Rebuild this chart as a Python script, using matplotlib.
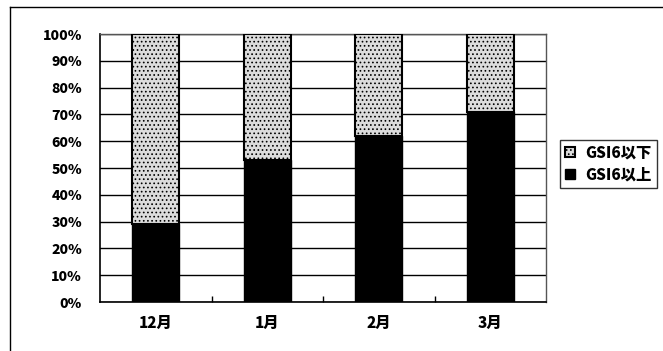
import matplotlib.pyplot as plt
from matplotlib.lines import Line2D
from matplotlib.ticker import FixedLocator, PercentFormatter

plt.rcParams['font.family'] = ['Noto Sans CJK JP', 'DejaVu Sans']
plt.rcParams['hatch.linewidth'] = 0.7

# data
months = ["12月", "1月", "2月", "3月"]
gsi6_above = [29, 53, 62, 71]
gsi6_below = [100 - v for v in gsi6_above]
labels = ["GSI6以下", "GSI6以上"]

fig = plt.figure(figsize=(6.63, 3.51), dpi=100)
ax = fig.add_axes([100/663, 1-302/351, 446/663, 268/351])

x = range(len(months))
b1 = ax.bar(x, gsi6_above, width=0.42, color='black', edgecolor='black', zorder=3)
b2 = ax.bar(x, gsi6_below, bottom=gsi6_above, width=0.42, color='#dcdcdc',
            edgecolor='black', linewidth=1.5, hatch='....', zorder=3)

ax.set_xlim(-0.5, len(months) - 0.5)
ax.set_ylim(0, 100)
ax.set_yticks(range(0, 101, 10))
ax.yaxis.set_major_formatter(PercentFormatter(decimals=0))
ax.yaxis.grid(True, color='black', linewidth=1)
ax.set_axisbelow(True)

ax.set_xticks(list(x))
ax.set_xticklabels(months, fontweight='heavy', fontsize=11)
ax.xaxis.set_minor_locator(FixedLocator([0.5, 1.5, 2.5]))
ax.tick_params(axis='x', which='major', length=0, pad=10)
ax.tick_params(axis='x', which='minor', direction='in', length=4, width=1)
ax.tick_params(axis='y', length=0, pad=13, labelsize=10)
for t in ax.get_yticklabels():
    t.set_fontweight('heavy')

ax.spines['left'].set_linewidth(1.2)
ax.spines['bottom'].set_linewidth(1.2)
for s in ['top', 'right']:
    ax.spines[s].set_color('#555555')
    ax.spines[s].set_linestyle((0, (2, 1)))
    ax.spines[s].set_linewidth(1)

# outer chart border (left and top edges visible)
fig.add_artist(Line2D([10/663, 10/663], [0, 1-7/351], color='black', lw=1))
fig.add_artist(Line2D([10/663, 1], [1-7/351, 1-7/351], color='black', lw=1))

ax.legend([b2, b1], labels, loc='upper left', bbox_to_anchor=(560/663, 1-140/351),
          bbox_transform=fig.transFigure, frameon=True, fancybox=False,
          edgecolor='black', prop={'weight': 'heavy', 'size': 11},
          handlelength=0.6, handleheight=0.6, handletextpad=0.7,
          borderpad=0.35, labelspacing=0.45, borderaxespad=0)

fig.savefig('out.png', dpi=100)
